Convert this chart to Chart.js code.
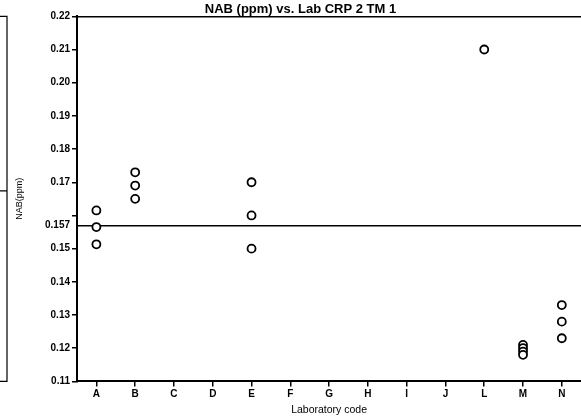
<!DOCTYPE html>
<html>
<head>
<meta charset="utf-8">
<script src="https://cdn.jsdelivr.net/npm/chart.js@4.4.1/dist/chart.umd.min.js"></script>
<style>
  html, body { margin: 0; padding: 0; background: #fff; overflow: hidden; }
  #wrap { width: 587px; height: 416px; }
</style>
</head>
<body>
<div id="wrap"><canvas id="nabChart"></canvas></div>
<script>
// lab codes on the x axis (no K)
const labs = ["A", "B", "C", "D", "E", "F", "G", "H", "I", "J", "L", "M", "N"];
// one entry per measured point
const pointLab = ["A", "A", "A", "B", "B", "B", "E", "E", "E", "L", "M", "M", "M", "M", "N", "N", "N"];
const pointNab = [0.1615, 0.1565, 0.1513, 0.173, 0.169, 0.165, 0.170, 0.160, 0.150, 0.210, 0.121, 0.120, 0.119, 0.118, 0.133, 0.128, 0.123];
// y ticks
const yTicks = [0.11, 0.12, 0.13, 0.14, 0.15, 0.157, 0.16, 0.17, 0.18, 0.19, 0.20, 0.21, 0.22];
const refValue = 0.157;

const FONT = "Arial, 'Liberation Sans', sans-serif";

// the little bracket on the far left of the original export
const leftBracket = {
  id: "leftBracket",
  afterDraw(chart) {
    const ctx = chart.ctx, a = chart.chartArea;
    ctx.save();
    ctx.strokeStyle = "#000";
    ctx.lineWidth = 1.2;
    ctx.beginPath();
    ctx.moveTo(0, a.top); ctx.lineTo(7, a.top);
    ctx.lineTo(7, a.bottom); ctx.lineTo(0, a.bottom);
    const mid = (a.top + a.bottom) / 2 - 8;
    ctx.moveTo(0, mid); ctx.lineTo(7, mid);
    ctx.stroke();
    ctx.restore();
  }
};

const CHART = document.getElementById("nabChart");

let nabChart = new Chart(CHART, {
  type: "scatter",
  data: {
    labels: labs,
    datasets: [{
      label: "NAB",
      data: pointLab.map((lab, i) => ({ x: lab, y: pointNab[i] })),
      pointStyle: "circle",
      pointRadius: 4,
      pointBorderWidth: 1.8,
      pointBorderColor: "#000",
      pointBackgroundColor: "#fff",
      showLine: false
    }]
  },
  options: {
    responsive: true,
    maintainAspectRatio: false,
    animation: false,
    layout: { padding: { left: 14, right: 0, top: 0, bottom: 0 } },
    plugins: {
      legend: { display: false },
      tooltip: { enabled: false },
      title: {
        display: true,
        text: "NAB (ppm) vs. Lab CRP 2 TM 1",
        color: "#000",
        font: { family: FONT, size: 13, weight: "bold", lineHeight: 1.1 },
        padding: { top: 2, bottom: 0 }
      }
    },
    scales: {
      x: {
        type: "category",
        labels: labs,
        offset: true,
        border: { display: true, color: "#000", width: 2 },
        grid: { display: true, drawOnChartArea: false, drawTicks: true, tickLength: 5, color: "#000", lineWidth: 1.5, offset: false },
        ticks: { color: "#000", font: { family: FONT, size: 10, weight: "bold" }, padding: 2, autoSkip: false, maxRotation: 0 },
        title: { display: true, text: "Laboratory code", color: "#000", font: { family: FONT, size: 10.5 }, padding: { top: 1, bottom: 0 } }
      },
      y: {
        min: 0.11,
        max: 0.22,
        afterBuildTicks(axis) {
          axis.ticks = yTicks.map(v => ({ value: v }));
        },
        afterFit(axis) {
          axis.width = 63;
        },
        border: { display: true, color: "#000", width: 2 },
        grid: {
          drawTicks: true,
          tickLength: 5,
          color: c => (c.tick && (c.tick.value === refValue || c.tick.value === 0.22)) ? "#000" : "rgba(0,0,0,0)",
          tickColor: c => (c.tick && c.tick.value === refValue) ? "rgba(0,0,0,0)" : "#000",
          lineWidth: 1.5
        },
        ticks: {
          color: "#000",
          font: { family: FONT, size: 10, weight: "bold" },
          padding: 2,
          autoSkip: false,
          callback: v => {
            if (v === 0.16) return "";
            if (v === refValue) return "0.157";
            return v.toFixed(2);
          }
        },
        title: { display: true, text: "NAB(ppm)", color: "#000", font: { family: FONT, size: 9 }, padding: { top: 0, bottom: 0 } }
      }
    }
  },
  plugins: [leftBracket]
});
</script>
</body>
</html>
